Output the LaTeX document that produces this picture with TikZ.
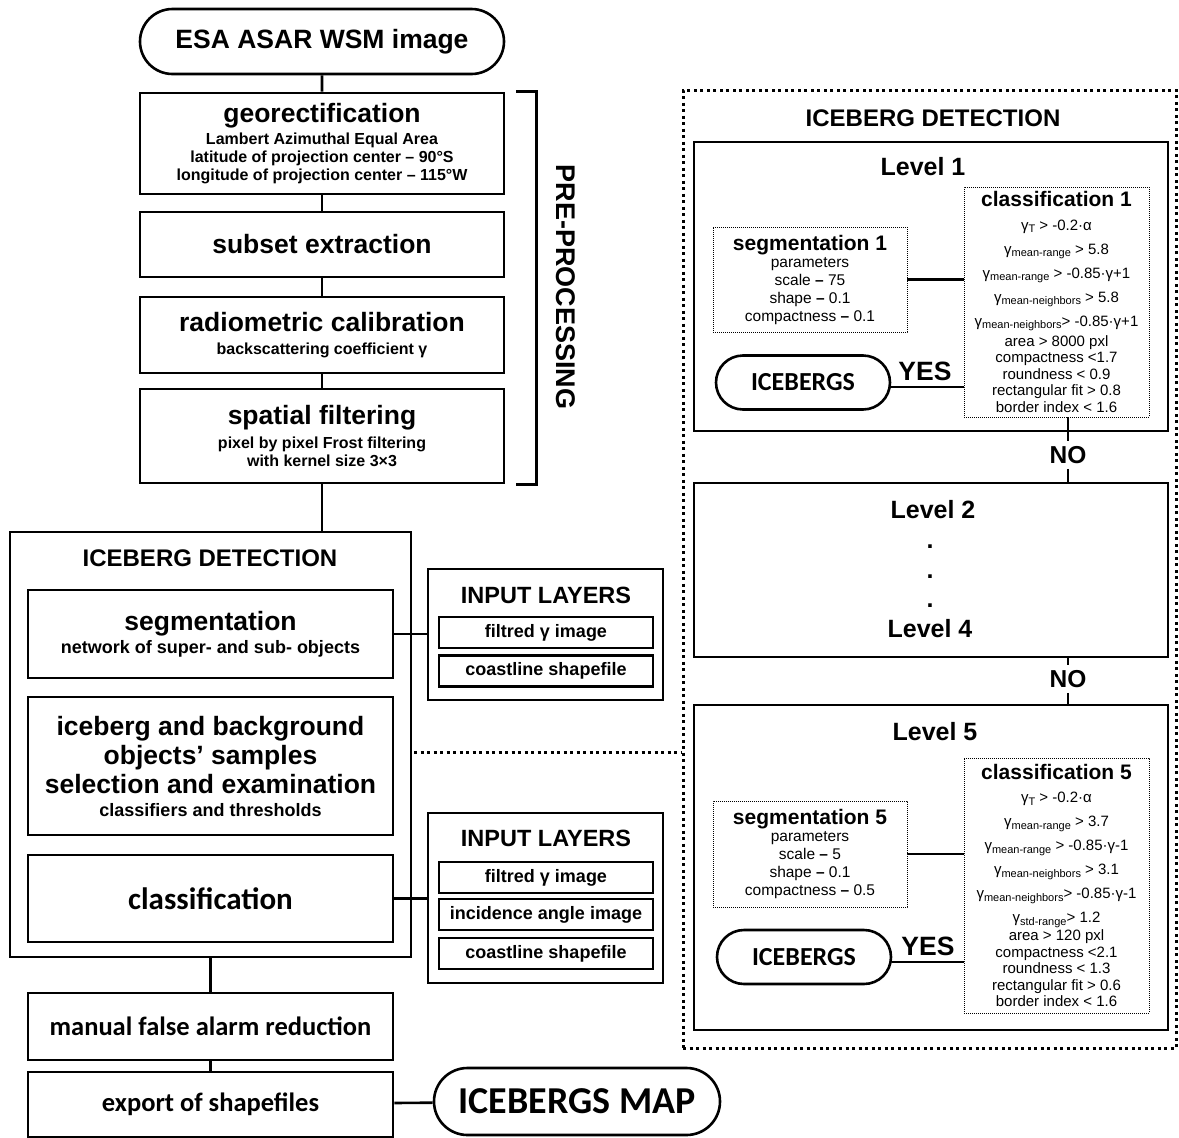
\documentclass[tikz,border=0pt]{standalone}
\usepackage{fontspec}
\setmainfont{Liberation Sans}
\newfontfamily\calib{Carlito}
\usetikzlibrary{shapes.misc}

\newcommand{\hd}{\bfseries\fontsize{26.5}{30}\selectfont}
\newcommand{\sbf}{\bfseries\fontsize{16}{18}\selectfont}
\newcommand{\gsub}[1]{\raisebox{-0.3ex}{\fontsize{11}{11}\selectfont #1}}

\begin{document}
\begin{tikzpicture}[x=1pt,y=-1pt]
\tikzstyle{box}=[draw, line width=2.6pt, align=center, inner sep=0pt]
\tikzstyle{pill}=[draw, rounded rectangle, line width=2.6pt, inner sep=0pt]
\tikzstyle{dotbox}=[draw, line width=0.8pt, dash pattern=on 0.8pt off 1.2pt, align=center, inner sep=0pt]
\tikzstyle{dotline}=[line width=3pt, dash pattern=on 3pt off 3.5pt]
\tikzstyle{connect}=[line width=2.6pt]
\tikzstyle{ttl}=[font=\bfseries\fontsize{24}{28}\selectfont]
\tikzstyle{lvl}=[font=\bfseries\fontsize{25}{28}\selectfont]
\tikzstyle{crit}=[font=\fontsize{15}{16.5}\selectfont]
\tikzstyle{layer}=[box, minimum width=214, minimum height=31, font=\bfseries\fontsize{18}{20}\selectfont]
\tikzstyle{yes}=[font=\bfseries\fontsize{26.5}{28}\selectfont]
\tikzstyle{no}=[font=\bfseries\fontsize{24.5}{26}\selectfont, inner sep=5pt]
\useasboundingbox (0,0) rectangle (1179,1138);

  % pre-processing
  \node[pill, minimum width=364, minimum height=65, font=\hd] (esa) at (322,41.5) {ESA ASAR WSM image};
  \node[box, minimum width=364, minimum height=101, font=\sbf] (geo) at (322,143.5) {{\hd georectification}\\[4pt] Lambert Azimuthal Equal Area\\ latitude of projection center – 90°S\\ longitude of projection center – 115°W};
  \node[box, minimum width=364, minimum height=65, font=\hd] (subset) at (322,244.5) {subset extraction};
  \node[box, minimum width=364, minimum height=76, font=\sbf] (radio) at (322,335) {{\hd radiometric calibration}\\[5pt] backscattering coefficient γ};
  \node[box, minimum width=364, minimum height=94, font=\sbf] (spatial) at (322,436) {{\hd spatial filtering}\\[6pt] pixel by pixel Frost filtering\\ with kernel size 3×3};
  \node[font=\bfseries\fontsize{27}{30}\selectfont, rotate=-90] (pre) at (566,287) {PRE-PROCESSING};
  \draw[connect] ([xshift=11]geo.north east) -- ++(20,0) |- ([xshift=11]spatial.south east);
  \path (esa) edge [connect] (geo)
        (geo) edge [connect] (subset)
        (subset) edge [connect] (radio)
        (radio) edge [connect] (spatial);

  % iceberg detection (left)
  \node[box, minimum width=401, minimum height=425] (detL) at (210.5,744.5) {};
  \node[ttl] (detLt) at (210,558) {ICEBERG DETECTION};
  \node[box, minimum width=365, minimum height=88, font=\bfseries\fontsize{18}{20}\selectfont] (seg) at (210.5,634) {{\hd segmentation}\\[3pt] network of super- and sub- objects};
  \node[box, minimum width=365, minimum height=138, font=\hd] (sel) at (210.5,766) {iceberg and background\\[-1pt] objects’ samples\\[-1pt] selection and examination\\[-7pt] {\bfseries\fontsize{18}{20}\selectfont classifiers and thresholds}};
  \node[box, minimum width=365, minimum height=87, font=\calib\bfseries\fontsize{31}{34}\selectfont] (cls) at (210.5,898.5) {classification};
  \draw[connect] (spatial.south) -- (spatial.south |- detL.north);

  % input layers
  \node[box, minimum width=235, minimum height=131] (inp1) at (545.5,634.5) {};
  \node[ttl, font=\bfseries\fontsize{23.5}{26}\selectfont] (inp1t) at (546,595) {INPUT LAYERS};
  \node[layer] (l11) at (546,632.5) {filtred γ image};
  \node[layer] (l12) at (546,671) {coastline shapefile};
  \node[box, minimum width=235, minimum height=170] (inp2) at (545.5,898) {};
  \node[ttl, font=\bfseries\fontsize{23.5}{26}\selectfont] (inp2t) at (546,838) {INPUT LAYERS};
  \node[layer] (l21) at (546,877.5) {filtred γ image};
  \node[layer] (l22) at (546,914.5) {incidence angle image};
  \node[layer] (l23) at (546,953.5) {coastline shapefile};
  \draw[connect] (seg.east) -- (seg.east -| inp1.west);
  \draw[connect] (cls.east) -- (cls.east -| inp2.west);

  % iceberg detection (right)
  \node[draw, dotline, minimum width=493, minimum height=958] (detR) at (929.5,569) {};
  \node[ttl] (detRt) at (933,118) {ICEBERG DETECTION};
  \coordinate (dl) at (414,752);
  \draw[dotline] (dl) -- (detR.west |- dl);

  % level 1
  \node[box, minimum width=474, minimum height=289] (lev1) at (931,286.5) {};
  \node[lvl] (lev1t) at (923,167) {Level 1};
  \node[dotbox, minimum width=194, minimum height=105, font=\fontsize{15.5}{18}\selectfont] (seg1) at (810,279.5) {{\bfseries\fontsize{21}{24}\selectfont segmentation 1}\\[-1pt] parameters\\ scale \textbf{–} 75\\ shape \textbf{–} 0.1\\ compactness \textbf{–} 0.1};
  \node[dotbox, crit, minimum width=185, minimum height=230] (cls1) at (1056.5,302) {{\bfseries\fontsize{21}{24}\selectfont classification 1}\\[7pt]
    γ\gsub{T} > -0.2·α\\[7.5pt]
    γ\gsub{mean-range} > 5.8\\[7.5pt]
    γ\gsub{mean-range} > -0.85·γ+1\\[7.5pt]
    γ\gsub{mean-neighbors} > 5.8\\[7.5pt]
    γ\gsub{mean-neighbors}> -0.85·γ+1\\[3.5pt]
    area > 8000 pxl\\
    compactness <1.7\\
    roundness < 0.9\\
    rectangular fit > 0.8\\
    border index < 1.6};
  \node[pill, minimum width=174, minimum height=54, font=\calib\bfseries\fontsize{26}{28}\selectfont] (ice1) at (803,382.5) {ICEBERGS};
  \node[yes] (yes1) at (925,371) {YES};
  \draw[connect] (seg1.east) -- (seg1.east -| cls1.west);
  \draw[connect] ([yshift=-4.5]ice1.east) -- ([yshift=-4.5]ice1.east -| cls1.west);

  % levels 2 to 4
  \node[no] (no1) at (1068,455) {NO};
  \node[box, minimum width=474, minimum height=174] (lev2) at (931,570) {};
  \node[lvl] (lev2t) at (933,510) {Level 2};
  \node[lvl] (dot1) at (930,547) {.};
  \node[lvl] (dot2) at (930,577) {.};
  \node[lvl] (dot3) at (930,606) {.};
  \node[lvl] (lev4t) at (930,629) {Level 4};
  \node[no] (no2) at (1068,679) {NO};
  \draw[connect] (cls1.south -| no1) -- (no1);
  \draw[connect] (no1) -- (no1 |- lev2.north);
  \draw[connect] (lev2.south -| no2) -- (no2);

  % level 5
  \node[box, minimum width=474, minimum height=325] (lev5) at (931,867.5) {};
  \node[lvl] (lev5t) at (935,732) {Level 5};
  \node[dotbox, minimum width=194, minimum height=106, font=\fontsize{15.5}{18}\selectfont] (seg5) at (810,854) {{\bfseries\fontsize{21}{24}\selectfont segmentation 5}\\[-1pt] parameters\\ scale \textbf{–} 5\\ shape \textbf{–} 0.1\\ compactness \textbf{–} 0.5};
  \node[dotbox, crit, minimum width=185, minimum height=255] (cls5) at (1056.5,885.5) {{\bfseries\fontsize{21}{24}\selectfont classification 5}\\[7pt]
    γ\gsub{T} > -0.2·α\\[7.5pt]
    γ\gsub{mean-range} > 3.7\\[7.5pt]
    γ\gsub{mean-range} > -0.85·γ-1\\[7.5pt]
    γ\gsub{mean-neighbors} > 3.1\\[7.5pt]
    γ\gsub{mean-neighbors}> -0.85·γ-1\\[7.5pt]
    γ\gsub{std-range}> 1.2\\[1.5pt]
    area > 120 pxl\\
    compactness <2.1\\
    roundness < 1.3\\
    rectangular fit > 0.6\\
    border index < 1.6};
  \node[pill, minimum width=174, minimum height=54, font=\calib\bfseries\fontsize{26}{28}\selectfont] (ice5) at (804,957) {ICEBERGS};
  \node[yes] (yes5) at (928,946) {YES};
  \draw[connect] (no2) -- (no2 |- lev5.north);
  \draw[connect] (seg5.east) -- (seg5.east -| cls5.west);
  \draw[connect] ([yshift=-5]ice5.east) -- ([yshift=-5]ice5.east -| cls5.west);

  % output
  \node[box, minimum width=365, minimum height=67, font=\calib\bfseries\fontsize{26.5}{30}\selectfont] (manual) at (210.5,1026.5) {manual false alarm reduction};
  \node[box, minimum width=365, minimum height=65, font=\calib\bfseries\fontsize{26.5}{30}\selectfont] (export) at (210.5,1104.5) {export of shapefiles};
  \node[pill, minimum width=286, minimum height=67, font=\calib\bfseries\fontsize{38}{40}\selectfont] (map) at (577,1101.5) {ICEBERGS MAP};
  \path (detL) edge [connect] (manual)
        (manual) edge [connect] (export)
        (export) edge [connect] (map);
\end{tikzpicture}
\end{document}
